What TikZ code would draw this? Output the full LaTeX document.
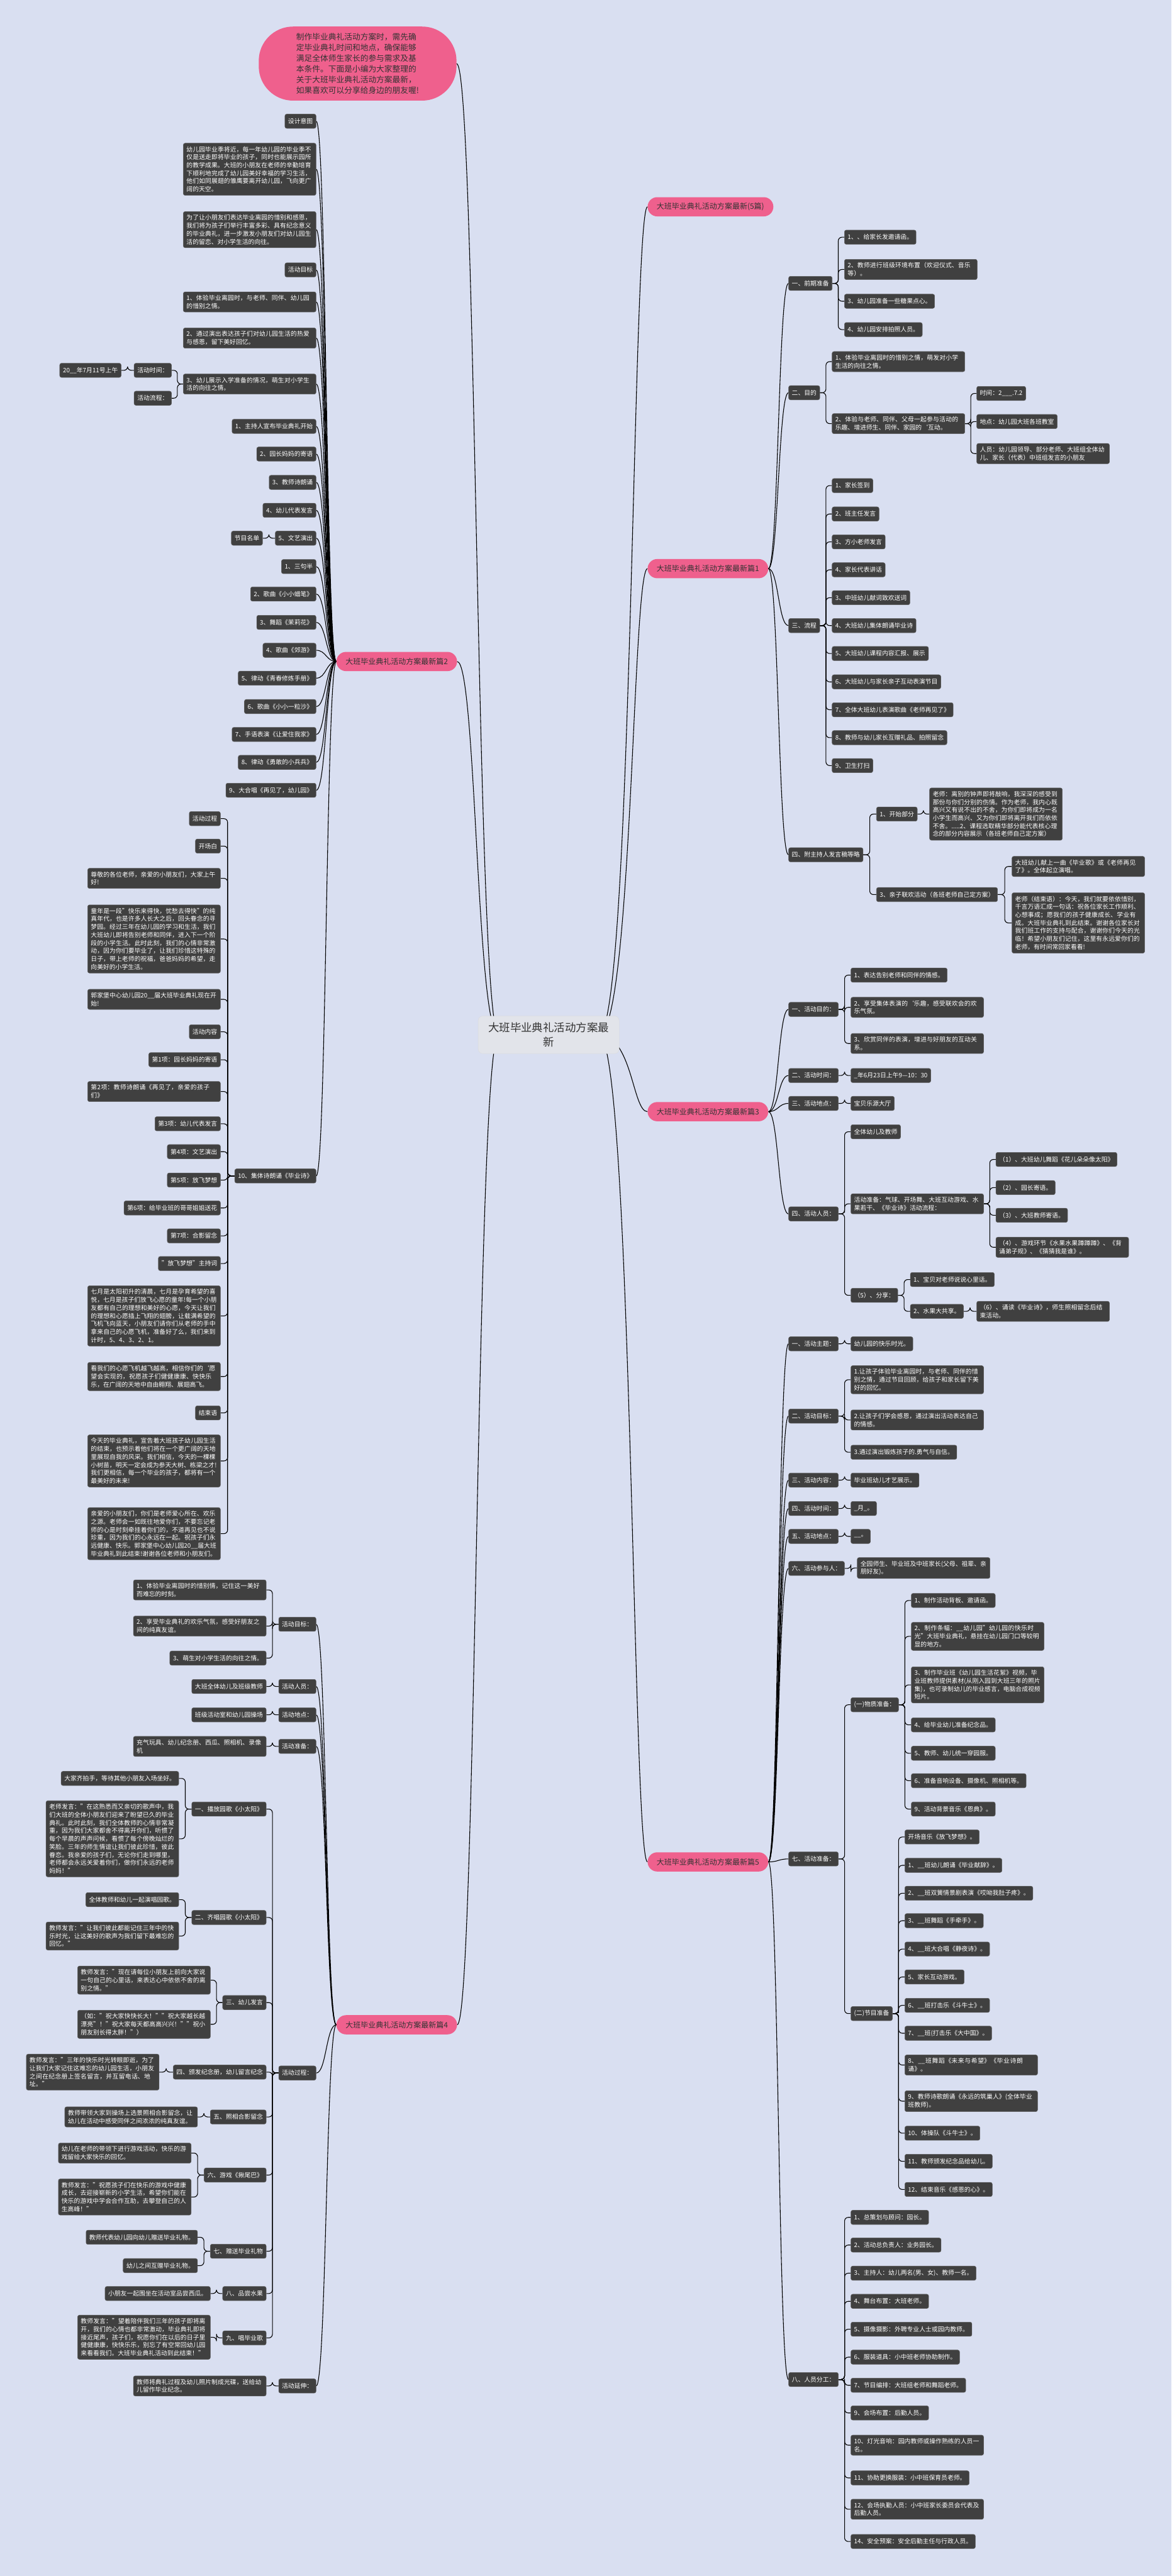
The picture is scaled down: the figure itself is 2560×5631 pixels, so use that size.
\documentclass[tikz,border=0pt]{standalone}
\usepackage{fontspec}
\setmainfont{Noto Sans CJK SC}
\XeTeXlinebreaklocale "zh"
\XeTeXlinebreakskip=0pt plus 1pt
\usetikzlibrary{calc}

\definecolor{bgblue}{RGB}{217,223,241}
\definecolor{boxgray}{RGB}{64,64,64}
\definecolor{boxline}{RGB}{92,92,92}
\definecolor{titlepink}{RGB}{239,96,141}
\definecolor{rootgray}{RGB}{226,228,234}

\pgfdeclarelayer{background}
\pgfsetlayers{background,main}

\tikzset{
  leaf/.style={fill=boxgray, draw=boxline, line width=0.8pt, rounded corners=4pt, text=white,
    font=\fontsize{13.5}{17.5}\selectfont, inner xsep=7pt, inner ysep=6pt, minimum height=31pt},
  para/.style={leaf, text width=276pt, align=left, inner ysep=7pt},
  title/.style={fill=titlepink, rounded corners=21pt, text=black!80,
    font=\fontsize{16.5}{20}\selectfont, inner xsep=20pt, minimum height=42pt},
  intro/.style={fill=titlepink, rounded corners=75pt, text=black!80,
    font=\fontsize{17.5}{23.5}\selectfont, align=left, inner xsep=82pt, inner ysep=14pt},
  root/.style={fill=rootgray, draw=black!15, rounded corners=10pt, text=black!80,
    font=\fontsize{24}{32}\selectfont, align=center, inner xsep=22pt, inner ysep=14pt},
  link/.style={draw=black, line width=1.5pt, rounded corners=8pt},
}

% connectors
\newcommand\rootL[1]{\draw[link] let \p1=([xshift=45pt]root.west), \p2=(#1.east) in
  (\p1) .. controls (1041pt,\y1) and (1041pt,\y2) .. (\p2);}
\newcommand\rootR[1]{\draw[link] let \p1=([xshift=-45pt]root.east), \p2=(#1.west) in
  (\p1) .. controls (1382pt,\y1) and (1382pt,\y2) .. (\p2);}
\newcommand\curveL[2]{\draw[link] let \p1=(#1.west), \p2=(#2.east) in
  (\p1) .. controls ({(\x1+\x2)/2},\y1) and ({(\x1+\x2)/2},\y2) .. (\p2);}
\newcommand\curveR[2]{\draw[link] let \p1=(#1.east), \p2=(#2.west) in
  (\p1) .. controls ({(\x1+\x2)/2},\y1) and ({(\x1+\x2)/2},\y2) .. (\p2);}
\newcommand\elbowL[2]{\draw[link] (#1.west) -| ($(#1.west)!.5!(#2.east)$) |- (#2.east);}
\newcommand\elbowR[2]{\draw[link] (#1.east) -| ($(#1.east)!.5!(#2.west)$) |- (#2.west);}

\begin{document}
\begin{tikzpicture}[x=1pt, y=-1pt]
\useasboundingbox (0,0) rectangle (2560,5631);

\node[root] (root) at (1199,2262) {大班毕业典礼活动方案最\\新};
\node[intro] (intro) at (781.5,139) {制作毕业典礼活动方案时，需先确\\定毕业典礼时间和地点，确保能够\\满足全体师生家长的参与需求及基\\本条件。下面是小编为大家整理的\\关于大班毕业典礼活动方案最新，\\如果喜欢可以分享给身边的朋友喔!};
\node[title, anchor=west] (t0) at (1415,452) {大班毕业典礼活动方案最新(5篇)};
\node[title, anchor=west] (a) at (1415,1243) {大班毕业典礼活动方案最新篇1};
\node[title, anchor=east] (b) at (999,1446) {大班毕业典礼活动方案最新篇2};
\node[title, anchor=west] (c) at (1415,2430) {大班毕业典礼活动方案最新篇3};
\node[title, anchor=east] (d) at (999,4426) {大班毕业典礼活动方案最新篇4};
\node[title, anchor=west] (e) at (1415,4070) {大班毕业典礼活动方案最新篇5};

\begin{scope}[nodes={anchor=east}]
  % 篇2
  \node[leaf] (b1) at (691,265) {设计意图};
  \node[para] (b2) at (691,370) {幼儿园毕业季将近，每一年幼儿园的毕业季不仅是送走即将毕业的孩子，同时也能展示园所的教学成果。大班的小朋友在老师的辛勤培育下顺利地完成了幼儿园美好幸福的学习生活，他们如同展翅的雏鹰要离开幼儿园，飞向更广阔的天空。};
  \node[para] (b3) at (691,502) {为了让小朋友们表达毕业离园的惜别和感恩，我们将为孩子们举行丰富多彩、具有纪念意义的毕业典礼，进一步激发小朋友们对幼儿园生活的留恋、对小学生活的向往。};
  \node[leaf] (b4) at (691,590) {活动目标};
  \node[para] (b5) at (691,660) {1、体验毕业离园时，与老师、同伴、幼儿园的惜别之情。};
  \node[para] (b6) at (691,739) {2、通过演出表达孩子们对幼儿园生活的热爱与感恩，留下美好回忆。};
  \node[para] (b7) at (691,839.5) {3、幼儿展示入学准备的情况，萌生对小学生活的向往之情。};
  \node[leaf] (b7-1) at (375,809.5) {活动时间：};
  \node[leaf] (b7-1-1) at (265,809.5) {20\_\_年7月11号上午};
  \node[leaf] (b7-2) at (375,870.5) {活动流程：};
  \node[leaf] (b8) at (691,932) {1、主持人宣布毕业典礼开始};
  \node[leaf] (b9) at (691,992.5) {2、园长妈妈的寄语};
  \node[leaf] (b10) at (691,1054.5) {3、教师诗朗诵};
  \node[leaf] (b11) at (691,1115.5) {4、幼儿代表发言};
  \node[leaf] (b12) at (691,1176.5) {5、文艺演出};
  \node[leaf] (b12-1) at (574,1176.5) {节目名单};
  \node[leaf] (b13) at (691,1238.5) {1、三句半};
  \node[leaf] (b14) at (691,1298.5) {2、歌曲《小小蜡笔》};
  \node[leaf] (b15) at (691,1360.5) {3、舞蹈《茉莉花》};
  \node[leaf] (b16) at (691,1421.5) {4、歌曲《郊游》};
  \node[leaf] (b17) at (691,1482.5) {5、律动《青春修炼手册》};
  \node[leaf] (b18) at (691,1544.5) {6、歌曲《小小一粒沙》};
  \node[leaf] (b19) at (691,1605.5) {7、手语表演《让爱住我家》};
  \node[leaf] (b20) at (691,1666.5) {8、律动《勇敢的小兵兵》};
  \node[leaf] (b21) at (691,1727.5) {9、大合唱《再见了，幼儿园》};
  \node[leaf] (b22) at (691,2570.5) {10、集体诗朗诵《毕业诗》};
  \node[leaf] (b22-1) at (482,1789.5) {活动过程};
  \node[leaf] (b22-2) at (482,1849.5) {开场白};
  \node[para] (b22-3) at (482,1920) {尊敬的各位老师，亲爱的小朋友们，大家上午好!};
  \node[para] (b22-4) at (482,2052.5) {童年是一段"快乐来得快，忧愁去得快"的纯真年代，也是许多人长大之后，回头眷念的寻梦园。经过三年在幼儿园的学习和生活，我们大班幼儿即将告别老师和同伴，进入下一个阶段的小学生活。此时此刻，我们的心情非常激动，因为你们要毕业了，让我们珍惜这特殊的日子，带上老师的祝福，爸爸妈妈的希望，走向美好的小学生活。};
  \node[para] (b22-5) at (482,2184.5) {郭家堡中心幼儿园20\_\_届大班毕业典礼现在开始!};
  \node[leaf] (b22-6) at (482,2255.5) {活动内容};
  \node[leaf] (b22-7) at (482,2316.5) {第1项：园长妈妈的寄语};
  \node[para] (b22-8) at (482,2386) {第2项：教师诗朗诵《再见了，亲爱的孩子们》};
  \node[leaf] (b22-9) at (482,2456.5) {第3项：幼儿代表发言};
  \node[leaf] (b22-10) at (482,2517.5) {第4项：文艺演出};
  \node[leaf] (b22-11) at (482,2579.5) {第5项：放飞梦想};
  \node[leaf] (b22-12) at (482,2640.5) {第6项：给毕业班的哥哥姐姐送花};
  \node[leaf] (b22-13) at (482,2701.5) {第7项：合影留念};
  \node[leaf] (b22-14) at (482,2762) {"放飞梦想"主持词};
  \node[para] (b22-15) at (482,2876.5) {七月是太阳初升的清晨，七月是孕育希望的喜悦，七月是孩子们放飞心愿的童年!每一个小朋友都有自己的理想和美好的心愿，今天让我们的理想和心愿插上飞翔的翅膀，让载满希望的飞机飞向蓝天，小朋友们请你们从老师的手中拿来自己的心愿飞机，准备好了么，我们来到计时，5、4、3、2、1。};
  \node[para] (b22-16) at (482,3009) {看我们的心愿飞机越飞越高，相信你们的`愿望会实现的，祝愿孩子们健健康康、快快乐乐，在广阔的天地中自由翱翔、展翅高飞。};
  \node[leaf] (b22-17) at (482,3088.5) {结束语};
  \node[para] (b22-18) at (482,3193.5) {今天的毕业典礼，宣告着大班孩子幼儿园生活的结束，也预示着他们将在一个更广阔的天地里展现自我的风采。我们相信，今天的一棵棵小树苗，明天一定会成为参天大树、栋梁之才!我们更相信，每一个毕业的孩子，都将有一个最美好的未来!};
  \node[para] (b22-19) at (482,3352.5) {亲爱的小朋友们，你们是老师爱心所在、欢乐之源。老师会一如既往地爱你们，不要忘记老师的心是时刻牵挂着你们的，不道再见也不说珍重，因为我们的心永远在一起。祝孩子们永远健康、快乐。郭家堡中心幼儿园20\_\_届大班毕业典礼到此结束!谢谢各位老师和小朋友们。};

  % 篇4
  \node[leaf] (d1) at (691,3550.5) {活动目标：};
  \node[para] (d1-1) at (582,3475.5) {1、体验毕业离园时的惜别情，记住这一美好而难忘的时刻。};
  \node[para] (d1-2) at (582,3554.5) {2、享受毕业典礼的欢乐气氛，感受好朋友之间的纯真友谊。};
  \node[leaf] (d1-3) at (582,3624.5) {3、萌生对小学生活的向往之情。};
  \node[leaf] (d2) at (691,3686.5) {活动人员：};
  \node[leaf] (d2-1) at (582,3686.5) {大班全体幼儿及班级教师};
  \node[leaf] (d3) at (691,3748.5) {活动地点：};
  \node[leaf] (d3-1) at (582,3748.5) {班级活动室和幼儿园操场};
  \node[leaf] (d4) at (691,3817.5) {活动准备：};
  \node[para] (d4-1) at (582,3817.5) {充气玩具、幼儿纪念册、西瓜、照相机、录像机};
  \node[leaf] (d5) at (691,4531.5) {活动过程：};
  \node[leaf] (d5-1) at (582,3954.5) {一、播放园歌《小太阳》};
  \node[leaf] (d5-1-1) at (391,3887.5) {大家齐拍手，等待其他小朋友入场坐好。};
  \node[para] (d5-1-2) at (391,4019.5) {老师发言："在这熟悉而又亲切的歌声中，我们大班的全体小朋友们迎来了盼望已久的毕业典礼。此时此刻，我们全体教师的心情非常凝重，因为我们大家都舍不得离开你们，听惯了每个早晨的声声问候，看惯了每个傍晚灿烂的笑脸。三年的师生情谊让我们彼此珍惜，彼此眷恋。我亲爱的孩子们，无论你们走到哪里，老师都会永远关爱着你们，做你们永远的老师妈妈！"};
  \node[leaf] (d5-2) at (582,4191.5) {二、齐唱园歌《小太阳》};
  \node[leaf] (d5-2-1) at (391,4152.5) {全体教师和幼儿一起演唱园歌。};
  \node[para] (d5-2-2) at (391,4232) {教师发言："让我们彼此都能记住三年中的快乐时光，让这美好的歌声为我们留下最难忘的回忆。"};
  \node[leaf] (d5-3) at (582,4377.5) {三、幼儿发言};
  \node[para] (d5-3-1) at (460,4328.5) {教师发言："现在请每位小朋友上前向大家说一句自己的心里话，来表达心中依依不舍的离别之情。"};
  \node[para] (d5-3-2) at (460,4425) {（如："祝大家快快长大！""祝大家越长越漂亮"！"祝大家每天都高高兴兴！""祝小朋友别长得太胖！"）};
  \node[leaf] (d5-4) at (582,4529.5) {四、颁发纪念册，幼儿留言纪念};
  \node[para] (d5-4-1) at (348,4529.5) {教师发言："三年的快乐时光转眼即逝，为了让我们大家记住这难忘的幼儿园生活，小朋友之间在纪念册上签名留言，并互留电话、地址。"};
  \node[leaf] (d5-5) at (582,4627.5) {五、照相合影留念};
  \node[para] (d5-5-1) at (432,4627.5) {教师带领大家到操场上选景照相合影留念，让幼儿在活动中感受同伴之间浓浓的纯真友谊。};
  \node[leaf] (d5-6) at (582,4754.5) {六、游戏《揪尾巴》};
  \node[para] (d5-6-1) at (418,4706.5) {幼儿在老师的带领下进行游戏活动，快乐的游戏留给大家快乐的回忆。};
  \node[para] (d5-6-2) at (418,4802.5) {教师发言："祝愿孩子们在快乐的游戏中健康成长，去迎接崭新的小学生活，希望你们能在快乐的游戏中学会合作互助，去攀登自己的人生高峰！"};
  \node[leaf] (d5-7) at (582,4921) {七、赠送毕业礼物};
  \node[leaf] (d5-7-1) at (432,4890.5) {教师代表幼儿园向幼儿赠送毕业礼物。};
  \node[leaf] (d5-7-2) at (432,4952.5) {幼儿之间互赠毕业礼物。};
  \node[leaf] (d5-8) at (582,5013.5) {八、品尝水果};
  \node[leaf] (d5-8-1) at (460,5013.5) {小朋友一起围坐在活动室品尝西瓜。};
  \node[leaf] (d5-9) at (582,5110.5) {九、唱毕业歌};
  \node[para] (d5-9-1) at (460,5109) {教师发言："望着陪伴我们三年的孩子即将离开，我们的心情也都非常激动，毕业典礼即将接近尾声，孩子们，祝愿你们在以后的日子里健健康康，快快乐乐，别忘了有空常回幼儿园来看看我们。大班毕业典礼活动到此结束！"};
  \node[leaf] (d6) at (691,5215.5) {活动延伸：};
  \node[para] (d6-1) at (582,5215.5) {教师将典礼过程及幼儿照片制成光碟，送给幼儿留作毕业纪念。};
\end{scope}

\begin{scope}[nodes={anchor=west}]
  % 篇1
  \node[leaf] (a1) at (1723,619.5) {一、前期准备};
  \node[leaf] (a1-1) at (1845,518.5) {1、、给家长发邀请函。};
  \node[para] (a1-2) at (1845,589) {2、教师进行班级环境布置（欢迎仪式、音乐等）。};
  \node[leaf] (a1-3) at (1845,658.5) {3、幼儿园准备一些糖果点心。};
  \node[leaf] (a1-4) at (1845,720.5) {4、幼儿园安排拍照人员。};
  \node[leaf] (a2) at (1723,858.5) {二、目的};
  \node[para] (a2-1) at (1818,790.5) {1、体验毕业离园时的惜别之情，萌发对小学生活的向往之情。};
  \node[para] (a2-2) at (1818,926) {2、体验与老师、同伴、父母一起参与活动的乐趣、增进师生、同伴、家园的`互动。};
  \node[leaf] (a2-2-1) at (2134,860) {时间：2\_\_\_.7.2};
  \node[leaf] (a2-2-2) at (2134,921.5) {地点：幼儿园大班各班教室};
  \node[para] (a2-2-3) at (2134,991.5) {人员：幼儿园领导、部分老师、大班组全体幼儿、家长（代表）中班组发言的小朋友};
  \node[leaf] (a3) at (1723,1367.5) {三、流程};
  \node[leaf] (a3-1) at (1818,1061.5) {1、家长签到};
  \node[leaf] (a3-2) at (1818,1123.5) {2、班主任发言};
  \node[leaf] (a3-3) at (1818,1184.5) {3、方小老师发言};
  \node[leaf] (a3-4) at (1818,1245.5) {4、家长代表讲话};
  \node[leaf] (a3-5) at (1818,1306.5) {3、中班幼儿献词致欢送词};
  \node[leaf] (a3-6) at (1818,1367.5) {4、大班幼儿集体朗诵毕业诗};
  \node[leaf] (a3-7) at (1818,1428.5) {5、大班幼儿课程内容汇报、展示};
  \node[leaf] (a3-8) at (1818,1490.5) {6、大班幼儿与家长亲子互动表演节目};
  \node[leaf] (a3-9) at (1818,1551.5) {7、全体大班幼儿表演歌曲《老师再见了》};
  \node[leaf] (a3-10) at (1818,1612.5) {8、教师与幼儿家长互赠礼品、拍照留念};
  \node[leaf] (a3-11) at (1818,1673.5) {9、卫生打扫};
  \node[leaf] (a4) at (1723,1868.5) {四、附主持人发言稿等略};
  \node[leaf] (a4-1) at (1915,1779.5) {1、开始部分};
  \node[para] (a4-1-1) at (2031,1779.5) {老师：离别的钟声即将敲响，我深深的感受到那份与你们分别的伤情。作为老师，我内心既高兴又有说不出的不舍，为你们即将成为一名小学生而高兴、又为你们即将离开我们而依依不舍。.....2、课程选取精华部分能代表核心理念的部分内容展示（各班老师自己定方案）};
  \node[leaf] (a4-2) at (1915,1955.5) {3、亲子联欢活动（各班老师自己定方案）};
  \node[para] (a4-2-1) at (2211,1894) {大班幼儿献上一曲《毕业歌》或《老师再见了》。全体起立演唱。};
  \node[para] (a4-2-2) at (2211,2017.5) {老师（结束语）：今天，我们就要依依惜别，千言万语汇成一句话：祝各位家长工作顺利、心想事成；愿我们的孩子健康成长、学业有成。大班毕业典礼到此结束。谢谢各位家长对我们班工作的支持与配合，谢谢你们今天的光临！希望小朋友们记住，这里有永远爱你们的老师，有时间常回家看看!};

  % 篇3
  \node[leaf] (c1) at (1723,2206.5) {一、活动目的：};
  \node[leaf] (c1-1) at (1859,2131.5) {1、表达告别老师和同伴的情感。};
  \node[para] (c1-2) at (1859,2202) {2、享受集体表演的`乐趣，感受联欢会的欢乐气氛。};
  \node[para] (c1-3) at (1859,2281) {3、欣赏同伴的表演，增进与好朋友的互动关系。};
  \node[leaf] (c2) at (1723,2351) {二、活动时间：};
  \node[leaf] (c2-1) at (1859,2351) {\_年6月23日上午9—10：30};
  \node[leaf] (c3) at (1723,2412) {三、活动地点：};
  \node[leaf] (c3-1) at (1859,2412) {宝贝乐源大厅};
  \node[leaf] (c4) at (1723,2653.5) {四、活动人员：};
  \node[leaf] (c4-1) at (1859,2474) {全体幼儿及教师};
  \node[para] (c4-2) at (1859,2631.5) {活动准备：气球、开场舞、大班互动游戏、水果若干、《毕业诗》活动流程：};
  \node[leaf] (c4-2-1) at (2176,2534.5) {（1）、大班幼儿舞蹈《花儿朵朵像太阳》};
  \node[leaf] (c4-2-2) at (2176,2596) {（2）、园长寄语。};
  \node[leaf] (c4-2-3) at (2176,2656.5) {（3）、大班教师寄语。};
  \node[para] (c4-2-4) at (2176,2726.5) {（4）、游戏环节《水果水果蹲蹲蹲》、《背诵弟子规》、《猜猜我是谁》。};
  \node[leaf] (c4-3) at (1859,2831.5) {（5）、分享：};
  \node[leaf] (c4-3-1) at (1989,2797) {1、宝贝对老师说说心里话。};
  \node[leaf] (c4-3-2) at (1989,2866.5) {2、水果大共享。};
  \node[para] (c4-3-2-1) at (2134,2866.5) {（6）、诵读《毕业诗》，师生照相留念后结束活动。};

  % 篇5
  \node[leaf] (e1) at (1723,2937.5) {一、活动主题：};
  \node[leaf] (e1-1) at (1859,2937.5) {幼儿园的快乐时光。};
  \node[leaf] (e2) at (1723,3095.5) {二、活动目标：};
  \node[para] (e2-1) at (1859,3016) {1.让孩子体验毕业离园时，与老师、同伴的惜别之情，通过节目回顾，给孩子和家长留下美好的回忆。};
  \node[para] (e2-2) at (1859,3104) {2.让孩子们学会感恩，通过演出活动表达自己的情感。};
  \node[leaf] (e2-3) at (1859,3174.5) {3.通过演出锻炼孩子的.勇气与自信。};
  \node[leaf] (e3) at (1723,3235.5) {三、活动内容：};
  \node[leaf] (e3-1) at (1859,3235.5) {毕业班幼儿才艺展示。};
  \node[leaf] (e4) at (1723,3297.5) {四、活动时间：};
  \node[leaf] (e4-1) at (1859,3297.5) {\_月\_。};
  \node[leaf] (e5) at (1723,3358.5) {五、活动地点：};
  \node[leaf] (e5-1) at (1859,3358.5) {\_\_。};
  \node[leaf] (e6) at (1723,3428.5) {六、活动参与人：};
  \node[para] (e6-1) at (1873,3427.5) {全园师生、毕业班及中班家长(父母、祖辈、亲朋好友)。};
  \node[leaf] (e7) at (1723,4063.5) {七、活动准备：};
  \node[leaf] (e7-1) at (1859,3726.5) {(一)物质准备：};
  \node[leaf] (e7-1-1) at (1991,3498.5) {1、制作活动背板、邀请函。};
  \node[para] (e7-1-2) at (1991,3577) {2、制作条幅：\_\_幼儿园"幼儿园的快乐时光"大班毕业典礼，悬挂在幼儿园门口等较明显的地方。};
  \node[para] (e7-1-3) at (1991,3683) {3、制作毕业班《幼儿园生活花絮》视频，毕业班教师提供素材(从刚入园到大班三年的照片集)，也可录制幼儿的毕业感言，电脑合成视频短片。};
  \node[leaf] (e7-1-4) at (1991,3770.5) {4、给毕业幼儿准备纪念品。};
  \node[leaf] (e7-1-5) at (1991,3832.5) {5、教师、幼儿统一穿园服。};
  \node[leaf] (e7-1-6) at (1991,3892.5) {6、准备音响设备、摄像机、照相机等。};
  \node[leaf] (e7-1-7) at (1991,3954.5) {9、活动背景音乐《恩典》。};
  \node[leaf] (e7-2) at (1859,4401.5) {(二)节目准备};
  \node[leaf] (e7-2-1) at (1977,4015.5) {开场音乐《放飞梦想》。};
  \node[leaf] (e7-2-2) at (1977,4077.5) {1、\_\_班幼儿朗诵《毕业献辞》。};
  \node[leaf] (e7-2-3) at (1977,4138.5) {2、\_\_班双簧情景剧表演《哎呦我肚子疼》。};
  \node[leaf] (e7-2-4) at (1977,4198.5) {3、\_\_班舞蹈《手牵手》。};
  \node[leaf] (e7-2-5) at (1977,4260.5) {4、\_\_班大合唱《静夜诗》。};
  \node[leaf] (e7-2-6) at (1977,4321.5) {5、家长互动游戏。};
  \node[leaf] (e7-2-7) at (1977,4383.5) {6、\_\_班打击乐《斗牛士》。};
  \node[leaf] (e7-2-8) at (1977,4444.5) {7、\_\_班(打击乐《大中国》。};
  \node[para] (e7-2-9) at (1977,4514) {8、\_\_班舞蹈《未来与希望》《毕业诗朗诵》。};
  \node[para] (e7-2-10) at (1977,4593) {9、教师诗歌朗诵《永远的筑巢人》(全体毕业班教师)。};
  \node[leaf] (e7-2-11) at (1977,4663) {10、体操队《斗牛士》。};
  \node[leaf] (e7-2-12) at (1977,4724.5) {11、教师颁发纪念品给幼儿。};
  \node[leaf] (e7-2-13) at (1977,4786) {12、结束音乐《感恩的心》。};
  \node[leaf] (e8) at (1723,5201.5) {八、人员分工：};
  \node[leaf] (e8-1) at (1859,4847) {1、总策划与顾问：园长。};
  \node[leaf] (e8-2) at (1859,4907.5) {2、活动总负责人：业务园长。};
  \node[leaf] (e8-3) at (1859,4969) {3、主持人：幼儿两名(男、女)、教师一名。};
  \node[leaf] (e8-4) at (1859,5030.5) {4、舞台布置：大班老师。};
  \node[leaf] (e8-5) at (1859,5091.5) {5、摄像摄影：外聘专业人士或园内教师。};
  \node[leaf] (e8-6) at (1859,5152.5) {6、服装道具：小中班老师协助制作。};
  \node[leaf] (e8-7) at (1859,5214) {7、节目编排：大班组老师和舞蹈老师。};
  \node[leaf] (e8-8) at (1859,5274.5) {9、会场布置：后勤人员。};
  \node[para] (e8-9) at (1859,5345) {10、灯光音响：园内教师或操作熟练的人员一名。};
  \node[leaf] (e8-10) at (1859,5416.5) {11、协助更换服装：小中班保育员老师。};
  \node[para] (e8-11) at (1859,5485) {12、会场执勤人员：小中班家长委员会代表及后勤人员。};
  \node[leaf] (e8-12) at (1859,5555.5) {14、安全预案：安全后勤主任与行政人员。};
\end{scope}

\begin{pgfonlayer}{background}
  \fill[bgblue] (0,0) rectangle (2560,5631);
  \rootL{intro} \rootL{b} \rootL{d}
  \rootR{t0} \rootR{a} \rootR{c} \rootR{e}

  \foreach \i in {1,...,22} {\curveL{b}{b\i}}
  \elbowL{b7}{b7-1} \elbowL{b7}{b7-2} \elbowL{b7-1}{b7-1-1} \elbowL{b12}{b12-1}
  \foreach \i in {1,...,19} {\elbowL{b22}{b22-\i}}

  \foreach \i in {1,...,6} {\curveL{d}{d\i}}
  \foreach \i in {1,2,3} {\elbowL{d1}{d1-\i}}
  \elbowL{d2}{d2-1} \elbowL{d3}{d3-1} \elbowL{d4}{d4-1} \elbowL{d6}{d6-1}
  \foreach \i in {1,...,9} {\elbowL{d5}{d5-\i}}
  \foreach \i/\k in {1/2,2/2,3/2,4/1,5/1,6/2,7/2,8/1,9/1}
    {\foreach \j in {1,...,\k} {\elbowL{d5-\i}{d5-\i-\j}}}

  \foreach \i in {1,...,4} {\curveR{a}{a\i}}
  \foreach \i in {1,...,4} {\elbowR{a1}{a1-\i}}
  \foreach \i in {1,2} {\elbowR{a2}{a2-\i}}
  \foreach \i in {1,2,3} {\elbowR{a2-2}{a2-2-\i}}
  \foreach \i in {1,...,11} {\elbowR{a3}{a3-\i}}
  \foreach \i in {1,2} {\elbowR{a4}{a4-\i}}
  \elbowR{a4-1}{a4-1-1}
  \foreach \i in {1,2} {\elbowR{a4-2}{a4-2-\i}}

  \foreach \i in {1,...,4} {\curveR{c}{c\i}}
  \foreach \i in {1,2,3} {\elbowR{c1}{c1-\i}}
  \elbowR{c2}{c2-1} \elbowR{c3}{c3-1}
  \foreach \i in {1,2,3} {\elbowR{c4}{c4-\i}}
  \foreach \i in {1,...,4} {\elbowR{c4-2}{c4-2-\i}}
  \foreach \i in {1,2} {\elbowR{c4-3}{c4-3-\i}}
  \elbowR{c4-3-2}{c4-3-2-1}

  \foreach \i in {1,...,8} {\curveR{e}{e\i}}
  \elbowR{e1}{e1-1}
  \foreach \i in {1,2,3} {\elbowR{e2}{e2-\i}}
  \elbowR{e3}{e3-1} \elbowR{e4}{e4-1} \elbowR{e5}{e5-1} \elbowR{e6}{e6-1}
  \foreach \i in {1,2} {\elbowR{e7}{e7-\i}}
  \foreach \i in {1,...,7} {\elbowR{e7-1}{e7-1-\i}}
  \foreach \i in {1,...,13} {\elbowR{e7-2}{e7-2-\i}}
  \foreach \i in {1,...,12} {\elbowR{e8}{e8-\i}}
\end{pgfonlayer}
\end{tikzpicture}
\end{document}
